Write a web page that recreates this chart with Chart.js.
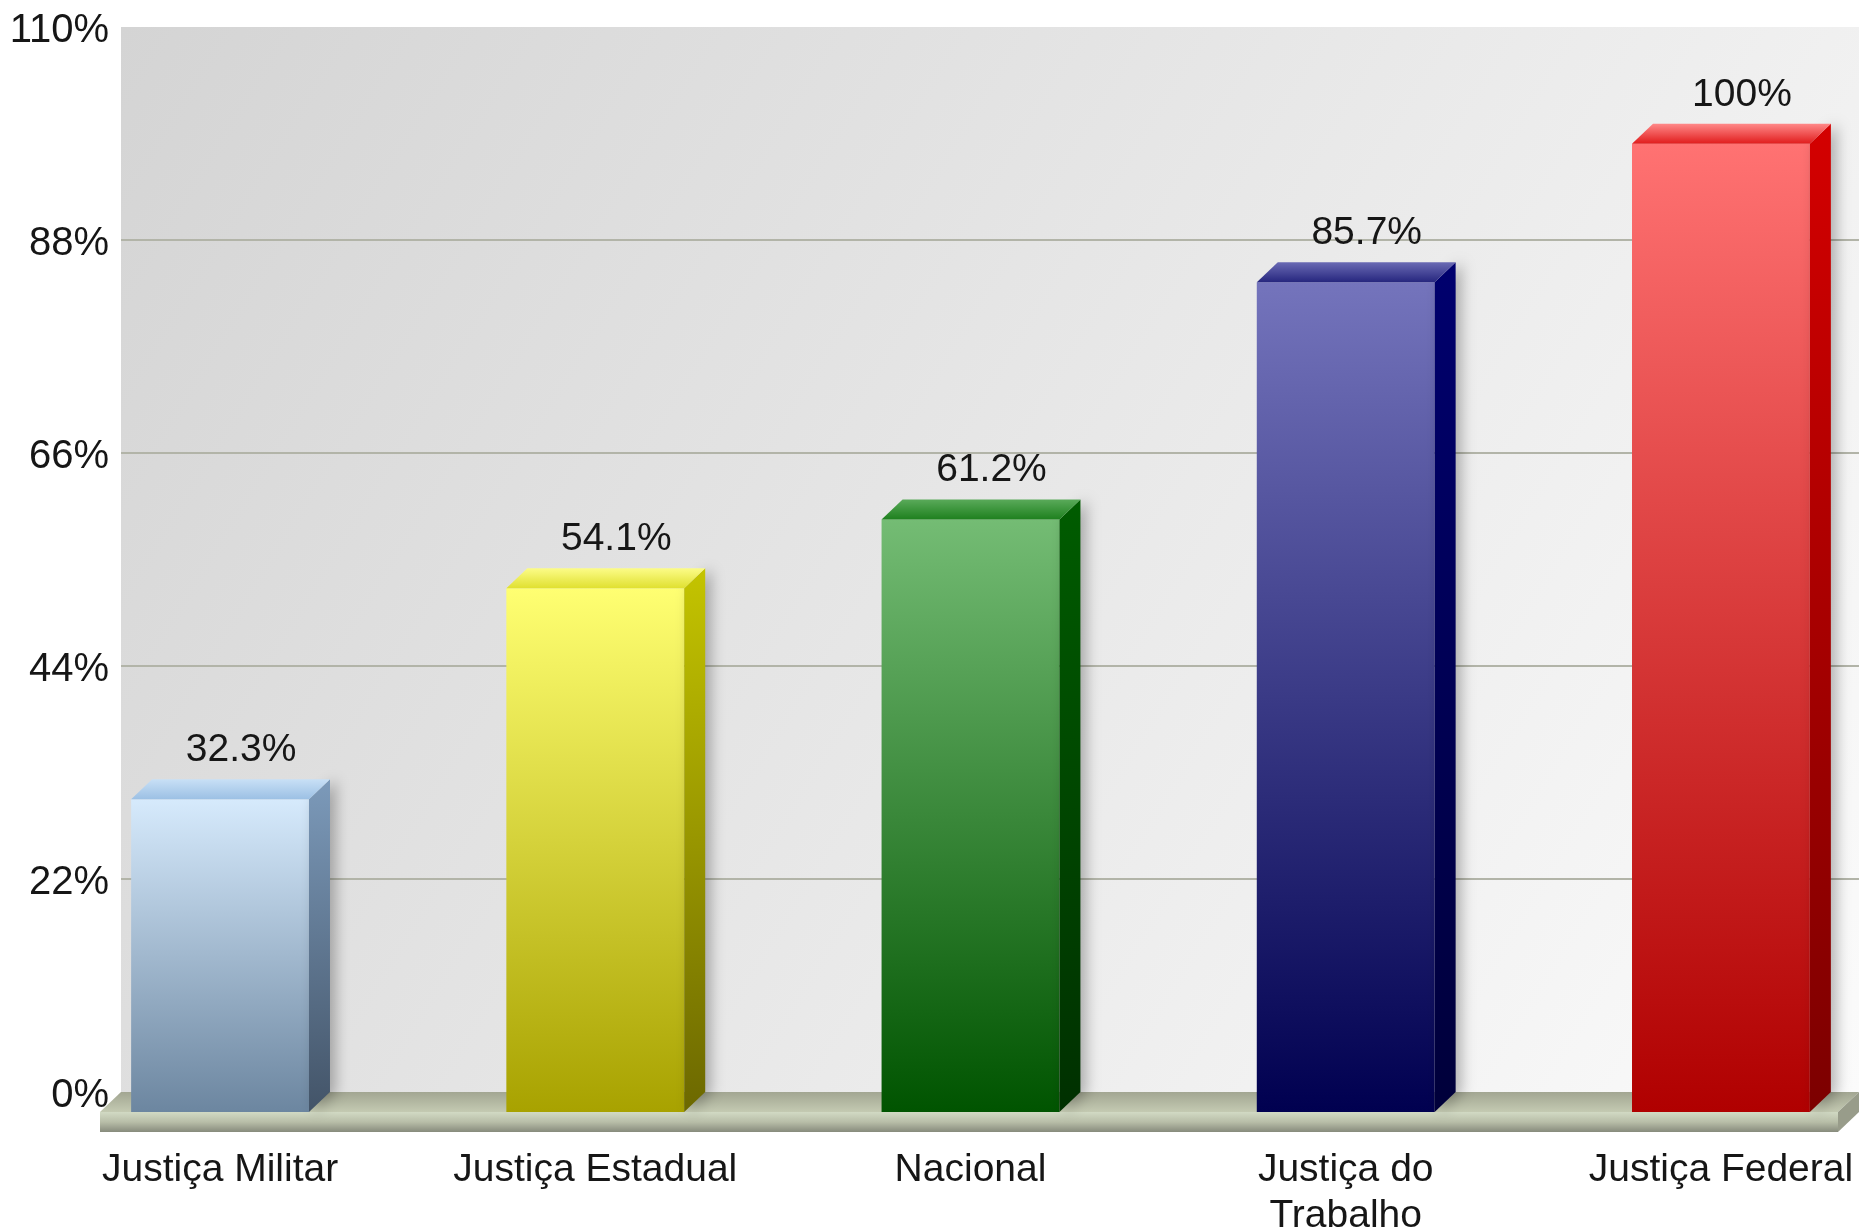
<!DOCTYPE html>
<html>
<head>
<meta charset="utf-8">
<script src="https://cdn.jsdelivr.net/npm/chart.js@4"></script>
<style>
  html, body { margin: 0; padding: 0; background: #fff; }
  #wrap { width: 1859px; height: 1229px; position: relative; }
</style>
</head>
<body>
<div id="wrap"><canvas id="barChart"></canvas></div>
<script>
// data
const categories = [['Justiça Militar'], ['Justiça Estadual'], ['Nacional'], ['Justiça do', 'Trabalho'], ['Justiça Federal']];
const values = [32.3, 54.1, 61.2, 85.7, 100];
const yTicks = [0, 22, 44, 66, 88, 110];

// colours per bar
const frontTop = ['#d6eafc', '#ffff72', '#74bc74', '#7474bc', '#ff7272'];
const frontBottom = ['#6c86a0', '#a8a200', '#005400', '#000050', '#b00000'];
const sideTop = ['#7c9aba', '#c4c400', '#005c00', '#00006e', '#d40000'];
const sideBottom = ['#435468', '#6c6800', '#003000', '#00003a', '#7c0000'];
const topFront = ['#9cc0e4', '#e0e030', '#1e801e', '#26267e', '#e01c1c'];
const topBack = ['#c8e0f6', '#fcfc88', '#5aaa5a', '#6a6ab4', '#ff8888'];

const DX = 21, DY = 20;
const font = { family: '"Liberation Sans", Arial, sans-serif', size: 39 };

function fmt(v) {
    return (Number.isInteger(v) ? v : v.toFixed(1)) + '%';
}

// 3D look: back wall, grid, floor, bar sides/tops, value labels
const threeD = {
    id: 'threeD',
    beforeDraw(chart) {
        const { ctx, chartArea, scales: { y } } = chart;
        // back wall starts at chartArea.left, the front plane is DX to the left
        const left = chartArea.left, right = chartArea.right + DX;
        const top = chartArea.top - DY;
        const zero = y.getPixelForValue(0);
        const bottom = zero - DY;
        ctx.save();
        const bg = ctx.createLinearGradient(left, top, right, bottom);
        bg.addColorStop(0, '#d4d4d4');
        bg.addColorStop(1, '#fbfbfb');
        ctx.fillStyle = bg;
        ctx.fillRect(left, top, right - left, bottom - top);

        ctx.strokeStyle = '#b2b4a8';
        ctx.lineWidth = 2;
        yTicks.forEach(v => {
            if (v === 0 || v === 110) return;
            const py = Math.round(y.getPixelForValue(v) - DY);
            ctx.beginPath();
            ctx.moveTo(left, py);
            ctx.lineTo(right, py);
            ctx.stroke();
        });

        // floor
        const fl = chartArea.left - DX, fr = chartArea.right, th = 20;
        let g = ctx.createLinearGradient(0, bottom, 0, zero);
        g.addColorStop(0, '#a2a692');
        g.addColorStop(1, '#c4cab2');
        ctx.fillStyle = g;
        ctx.beginPath();
        ctx.moveTo(fl, zero);
        ctx.lineTo(fl + DX, bottom);
        ctx.lineTo(fr + DX, bottom);
        ctx.lineTo(fr, zero);
        ctx.closePath();
        ctx.fill();

        g = ctx.createLinearGradient(0, zero, 0, zero + th);
        g.addColorStop(0, '#d2dac4');
        g.addColorStop(0.5, '#b8bea8');
        g.addColorStop(1, '#878b7c');
        ctx.fillStyle = g;
        ctx.fillRect(fl, zero, fr - fl, th);

        ctx.fillStyle = '#989c8a';
        ctx.beginPath();
        ctx.moveTo(fr, zero);
        ctx.lineTo(fr + DX, bottom);
        ctx.lineTo(fr + DX, bottom + th);
        ctx.lineTo(fr, zero + th);
        ctx.closePath();
        ctx.fill();
        ctx.restore();
    },
    afterDatasetsDraw(chart) {
        const { ctx } = chart;
        const meta = chart.getDatasetMeta(0);
        ctx.save();
        meta.data.forEach((bar, i) => {
            const { x, y, base, width } = bar.getProps(['x', 'y', 'base', 'width'], true);
            const x0 = x - width / 2, x1 = x + width / 2;

            // side face with soft shadow
            ctx.save();
            ctx.shadowColor = 'rgba(0,0,0,0.28)';
            ctx.shadowBlur = 14;
            ctx.shadowOffsetX = 6;
            let g = ctx.createLinearGradient(0, y - DY, 0, base);
            g.addColorStop(0, sideTop[i]);
            g.addColorStop(1, sideBottom[i]);
            ctx.fillStyle = g;
            ctx.beginPath();
            ctx.moveTo(x1, y);
            ctx.lineTo(x1 + DX, y - DY);
            ctx.lineTo(x1 + DX, base - DY);
            ctx.lineTo(x1, base);
            ctx.closePath();
            ctx.fill();
            ctx.restore();

            // top face
            g = ctx.createLinearGradient(0, y, 0, y - DY);
            g.addColorStop(0, topFront[i]);
            g.addColorStop(1, topBack[i]);
            ctx.fillStyle = g;
            ctx.beginPath();
            ctx.moveTo(x0, y);
            ctx.lineTo(x0 + DX, y - DY);
            ctx.lineTo(x1 + DX, y - DY);
            ctx.lineTo(x1, y);
            ctx.closePath();
            ctx.fill();

            // value label
            ctx.fillStyle = '#161616';
            ctx.font = font.size + 'px ' + font.family;
            ctx.textAlign = 'center';
            ctx.textBaseline = 'alphabetic';
            ctx.fillText(fmt(values[i]), x + DX, y - DY - 18);
        });
        ctx.restore();
    }
};

const ctx = document.getElementById('barChart').getContext('2d');
new Chart(ctx, {
    type: 'bar',
    data: {
        datasets: [{
            data: values.map((v, i) => ({ x: i, y: v })),
            backgroundColor: function (c) {
                const chart = c.chart;
                const i = c.dataIndex;
                if (!chart.chartArea || i === undefined) return frontBottom[0];
                const ys = chart.scales.y;
                const g = chart.ctx.createLinearGradient(0, ys.getPixelForValue(values[i]), 0, ys.getPixelForValue(0));
                g.addColorStop(0, frontTop[i]);
                g.addColorStop(1, frontBottom[i]);
                return g;
            },
            borderWidth: 0,
            barPercentage: 0.474,
            categoryPercentage: 1
        }]
    },
    options: {
        responsive: true,
        maintainAspectRatio: false,
        animation: false,
        layout: {
            padding: { top: 47, right: DX, bottom: 0, left: 0 }
        },
        plugins: {
            legend: { display: false },
            tooltip: { enabled: false }
        },
        scales: {
            x: {
                type: 'linear',
                offset: false,
                min: -0.264,
                max: categories.length - 1 + 0.312,
                afterBuildTicks: s => { s.ticks = categories.map((c, i) => ({ value: i })); },
                afterFit: s => {
                    s.height = 117;
                    s.paddingLeft = 0;
                    s.paddingRight = 0;
                },
                grid: { display: false, offset: false },
                border: { display: false },
                ticks: {
                    callback: v => categories[v],
                    autoSkip: false,
                    maxRotation: 0,
                    padding: 27,
                    color: '#161616',
                    font: { family: font.family, size: font.size, lineHeight: 1.18 }
                }
            },
            y: {
                min: 0,
                max: 110,
                afterBuildTicks: s => { s.ticks = yTicks.map(v => ({ value: v })); },
                afterFit: s => { s.width = 121; },
                grid: { display: false },
                border: { display: false },
                ticks: {
                    callback: v => v + '%',
                    padding: 4,
                    labelOffset: -16,
                    color: '#161616',
                    font: { family: font.family, size: 40 }
                }
            }
        }
    },
    plugins: [threeD]
});
</script>
</body>
</html>
